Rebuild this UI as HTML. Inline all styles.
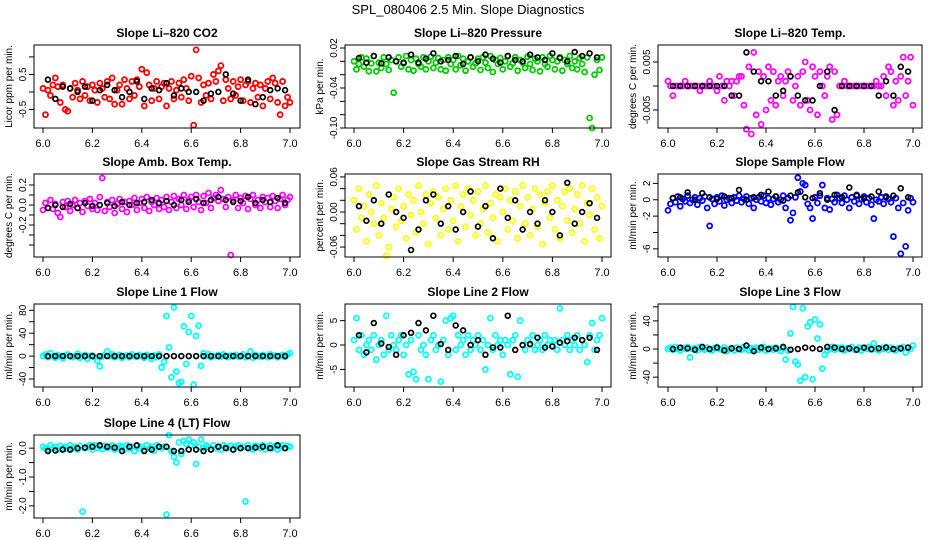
<!DOCTYPE html>
<html><head><meta charset="utf-8"><style>
html,body{margin:0;padding:0;background:#fff;}
svg{display:block;font-family:"Liberation Sans",sans-serif;}
</style></head><body>
<svg id="chart" width="936" height="540" viewBox="0 0 936 540" xmlns="http://www.w3.org/2000/svg">
<rect width="936" height="540" fill="#fff"/>
<text x="468" y="14" text-anchor="middle" font-size="13">SPL_080406  2.5 Min. Slope Diagnostics</text>
</svg>
<script>
const times = [6.00,6.01,6.02,6.03,6.04,6.05,6.06,6.07,6.08,6.09,6.10,6.11,6.12,6.13,6.14,6.15,6.16,6.17,6.18,6.19,6.20,6.21,6.22,6.23,6.24,6.25,6.26,6.27,6.28,6.29,6.30,6.31,6.32,6.33,6.34,6.35,6.36,6.37,6.38,6.39,6.40,6.41,6.42,6.43,6.44,6.45,6.46,6.47,6.48,6.49,6.50,6.51,6.52,6.53,6.54,6.55,6.56,6.57,6.58,6.59,6.60,6.61,6.62,6.63,6.64,6.65,6.66,6.67,6.68,6.69,6.70,6.71,6.72,6.73,6.74,6.75,6.76,6.77,6.78,6.79,6.80,6.81,6.82,6.83,6.84,6.85,6.86,6.87,6.88,6.89,6.90,6.91,6.92,6.93,6.94,6.95,6.96,6.97,6.98,6.99,7.00];
const blackTimes = [6.02,6.05,6.08,6.11,6.14,6.17,6.20,6.23,6.26,6.29,6.32,6.35,6.38,6.41,6.44,6.47,6.50,6.53,6.56,6.59,6.62,6.65,6.68,6.71,6.74,6.77,6.80,6.83,6.86,6.89,6.92,6.95,6.98];
const xTicks = [6.0,6.2,6.4,6.6,6.8,7.0];
const xTickLabels = ["6.0","6.2","6.4","6.6","6.8","7.0"];

const co2 = [0.1,-0.65,0.05,-0.1,0.2,0.4,0.15,-0.3,0.2,-0.5, -0.55,0.1,-0.15,0.25,0.05,-0.2,0.3,-0.1,0.15,-0.25, 0.2,0.05,-0.3,0.25,0.1,-0.15,0.3,-0.2,0.4,-0.35, 0.05,0.2,-0.35,0.35,0.1,-0.2,0.3,-0.1,0.35,0.15, 0.65,-0.4,0.55,0.2,-0.25,0.1,0.3,-0.2,0.15,0.25, -0.4,0.1,0.3,-0.2,0.05,0.25,-0.15,0.35,0.1,-0.25, 0.45,-0.95,1.2,0.4,-0.3,0.2,-0.1,0.25,-0.2,0.5, 0.3,0.6,0.75,-0.25,0.35,0.1,-0.2,0.3,-0.1,0.15, 0.35,-0.25,0.2,0.3,-0.3,0.1,0.25,-0.15,0.2,-0.4, 0.1,0.3,-0.2,0.4,0.25,-0.3,-0.65,0.3,-0.4,-0.15,-0.3];
const co2Black = [0.35,-0.2,0.15,0.1,0.0,0.15,-0.25,0.05,0.2,0.05,-0.15,0.0,0.3,-0.2,0.1,0.05,0.25,-0.1,0.1,0.0,0.0,-0.25,-0.05,0.0,0.5,-0.05,-0.25,0.35,-0.35,-0.15,0.05,0.1,0.05];

const pressure = [0.0,-0.012,-0.004,0.006,-0.008,0.004,-0.015,-0.003,0.008,-0.015, -0.002,-0.01,0.006,-0.004,-0.013,0.002,-0.047,0.0,0.006,-0.008, -0.003,0.008,-0.012,0.002,-0.014,0.004,-0.004,-0.008,0.006,-0.012, 0.0,0.007,-0.01,-0.002,0.005,-0.012,0.002,-0.014,0.006,-0.004, 0.002,-0.012,0.008,-0.006,0.004,-0.014,0.0,0.006,-0.008,-0.003, 0.004,-0.013,0.006,-0.002,-0.01,0.008,-0.016,0.002,-0.004,0.005, -0.012,0.0,0.008,-0.008,-0.003,0.006,-0.014,0.002,-0.002,-0.01, 0.007,-0.004,-0.013,0.004,0.0,-0.015,0.006,-0.004,-0.008,0.008, 0.002,-0.012,0.0,0.006,-0.014,0.002,-0.004,0.008,-0.01,0.0, -0.012,0.005,-0.004,-0.016,0.006,-0.085,-0.1,-0.02,0.002,-0.013,0.006];
const pressureBlack = [0.005,-0.002,0.008,-0.003,0.006,0.0,-0.002,0.01,-0.002,0.004,0.012,0.0,0.002,0.008,-0.004,0.006,0.0,0.01,0.004,-0.002,0.008,0.002,0.0,0.01,0.006,0.002,0.012,0.005,0.0,0.014,0.008,0.012,0.006];

const liTemp = [0.001,0,-0.002,0,0,0,0,0.001,0,0, 0,0,0,-0.001,0,0,0,0.001,0,0, -0.001,0.002,0,-0.003,0.001,0,0.001,-0.002,0.001,0.002, 0.002,-0.004,-0.009,0.004,-0.01,0.007,-0.006,0.003,-0.008,0.002, -0.005,0.004,-0.003,0.003,-0.004,0.001,0.002,-0.002,0.001,0.003, 0.002,-0.003,0,0.002,-0.004,0.003,0.005,-0.003,-0.005,0.004, 0.002,-0.006,0.003,0,-0.002,0.002,0.004,-0.007,0.003,-0.006, 0,0,0.001,0,0,0,0,0,0,0, 0,0,0,0,0,0.001,0,0,0.002,-0.002, 0.004,0.003,-0.004,0.001,-0.003,0.002,0.006,-0.002,0.001,0.006,-0.004];
const liTempBlack = [0,0,0,0,0,0,0,0,-0.002,-0.002,0.007,0.003,0.001,0.001,-0.002,-0.001,0.002,-0.002,-0.003,-0.003,0,0.003,-0.005,0,0,0,0,0,-0.002,0.001,-0.002,0.004,0.003];

const boxTemp = [-0.05,0.02,-0.03,0.05,-0.04,0.01,-0.08,-0.12,0.03,-0.02, 0.04,-0.06,0.0,0.05,-0.03,0.02,-0.07,0.04,-0.01,0.06, -0.04,0.02,-0.05,0.08,0.27,-0.06,0.03,-0.02,0.05,-0.08, 0.01,0.06,-0.04,0.03,-0.07,0.04,0.0,0.07,-0.05,0.02, 0.06,-0.03,0.08,-0.06,0.03,0.0,0.07,-0.04,0.05,-0.02, 0.08,-0.05,0.03,0.09,-0.03,0.06,0.0,0.1,-0.04,0.05, 0.08,-0.02,0.1,0.03,-0.05,0.09,0.02,0.12,-0.03,0.07, 0.1,0.04,0.15,0.06,-0.02,0.08,-0.5,0.05,0.1,-0.03, 0.07,0.02,0.09,-0.04,0.06,0.1,0.0,0.05,-0.03,0.08, 0.03,0.07,-0.02,0.09,0.04,-0.03,0.06,0.1,0.0,0.05,0.08];
const boxTempBlack = [-0.03,0.0,-0.02,0.01,-0.03,0.02,-0.01,0.0,0.02,-0.01,0.03,0.0,0.02,0.03,0.05,0.02,0.04,0.0,0.05,0.03,0.06,0.02,0.05,0.08,0.05,0.03,0.04,0.08,0.02,0.05,0.03,0.07,0.02];

const gasRH = [0.02,-0.03,0.04,-0.01,0.01,-0.05,0.03,0.0,-0.02,0.045, -0.04,0.015,-0.01,-0.075,-0.06,0.005,0.025,-0.025,0.04,-0.015, 0.01,-0.045,0.03,-0.005,0.02,-0.035,0.045,0.0,-0.02,0.03, -0.055,0.015,0.035,-0.01,0.025,-0.04,0.005,0.04,-0.03,0.02, -0.015,0.045,-0.05,0.01,0.03,-0.025,0.04,-0.005,0.02,-0.04, 0.035,-0.02,0.005,0.045,-0.035,0.015,-0.01,0.03,-0.05,0.025, 0.0,0.04,-0.03,0.02,-0.015,0.035,-0.045,0.01,0.045,-0.02, 0.025,-0.04,0.005,0.04,-0.025,0.03,-0.055,0.015,0.035,-0.01, 0.045,-0.03,0.02,-0.045,0.01,0.035,-0.015,0.04,-0.035,0.005, 0.03,-0.02,0.045,-0.05,0.015,-0.005,0.04,-0.03,0.025,-0.045,0.01];
const gasRHBlack = [0.01,-0.015,0.02,-0.02,0.03,0.0,-0.01,-0.065,-0.03,0.02,0.03,-0.02,0.01,-0.03,0.0,0.035,-0.025,0.01,-0.045,0.04,-0.01,0.02,-0.03,0.0,-0.02,0.02,0.0,-0.04,0.05,-0.02,0.0,0.015,-0.01];

const sampleFlow = [-1.3,-0.5,0.2,-0.3,0.4,-0.8,0.1,-0.2,0.5,-0.4, 0.0,0.3,-0.6,0.2,-0.1,0.4,-1.0,-3.2,0.1,-0.5, 0.3,-0.2,0.5,-0.7,0.0,0.2,-0.4,0.3,-0.1,0.5, -0.3,0.1,0.4,-0.5,0.2,-1.0,0.0,0.3,-0.2,0.5, -0.4,0.2,-0.6,0.1,0.4,-0.3,0.0,0.5,-1.0,0.2, -2.5,-1.6,0.3,2.7,1.0,2.0,1.8,-0.5,-1.0,-2.3, 0.3,-0.4,0.5,1.8,-1.0,0.2,-1.2,0.1,-0.3,0.6, 0.2,-0.4,0.5,0.0,-1.0,0.3,-0.2,0.6,-0.5,0.1, 0.4,-0.3,0.2,-0.6,-2.3,0.0,-0.2,0.3,-0.5,0.4, 0.1,-0.3,-4.5,0.2,-1.0,-6.6,-0.4,-5.7,-1.3,0.2,-0.3];
const sampleFlowBlack = [0.2,0.3,0.9,0.0,0.8,0.3,0.1,0.4,0.2,1.2,0.0,0.3,0.6,1.0,0.4,-0.1,0.5,0.9,0.3,0.2,0.8,0.0,0.6,0.3,1.5,0.5,0.2,0.4,1.0,0.3,0.5,1.4,0.3];

const line1 = [0,3,-2,5,0,-3,2,0,-4,1, 3,0,-2,0,4,-3,0,2,-5,0, 1,-2,-8,-18,-1,2,8,0,3,-2, 0,2,-3,0,1,-2,3,0,-1,2, 0,-3,2,0,-5,1,-2,3,-20,-10, 70,15,-37,85,-27,-47,-45,52,-14,42, 70,-50,35,53,-17,5,0,3,-2,0, 0,2,-1,3,0,-2,1,0,2,-1, 0,3,-2,0,8,-3,2,0,-1,2, 0,-2,3,0,1,-2,0,2,-1,3,5];
const line1Black = [0,0,0,0,0,0,0,0,0,0,0,0,0,0,0,0,0,0,0,0,0,0,0,0,0,0,0,0,0,0,0,0,0];

const line2 = [1,5.5,-1,2,-2,0,1,-1,2,-3, 0,1,-2,6,-1,2,0,-1,1,2, -2,0,-6,1,-5.5,-7,2,-1,0,-2, -7,1,2,-1,0,-7.5,1,5,-2,5.5, 6,-1,2,0,1,-2,2,-1,1,0, 2,-1,1,-5,0,5.5,-1,2,0,1, -2,1,0,-6,1,2,-6.5,5,0,-1, 1,0,2,-1,0,1,-1,2,0,1, 0,1,-1,7.5,1,0,2,-1,1,0, 2,-1,1,0,-3.5,2,4.5,-1,1,2,5.5];
const line2Black = [2,-1.5,4.5,0.3,-0.4,-2,2,2.5,4.5,3,6,0.2,-1,4,3,0,1,-2,-0.5,-0.5,6,-1,0,0.2,1.5,-0.5,-0.3,0.5,0.8,1.5,1,1.5,-1];

const line3 = [0,2,-1,3,0,-2,1,0,3,-12, 0,1,-2,3,0,-1,2,0,-2,1, 3,0,-1,2,-3,0,1,-2,2,0, -1,3,0,-2,1,0,2,-1,0,3, -2,0,1,-1,2,0,-3,1,-15,-2, 22,60,-18,-22,-45,58,-40,32,38,-43, 42,15,35,-28,-8,-2,0,3,-1,2, 0,2,-2,1,0,3,-1,0,2,-2, 1,0,3,-1,8,0,-2,1,0,3, -1,2,0,-2,1,0,3,-5,2,0,5];
const line3Black = [0,2,1,-1,3,0,2,-2,1,0,5,-3,2,0,1,3,-1,0,2,1,0,3,2,0,1,-1,2,0,1,2,0,1,2];

const line4 = [0.05,0,-0.05,0.1,0,0.05,-0.05,0.08,0,0.05, -0.03,0.1,0,0.05,-0.05,0.08,-2.2,0,0.05,0.1, -0.05,0.1,0,0.05,-0.03,0.08,0,0.05,0.1,-0.05, 0,0.08,0.05,-0.05,0.1,0,0.05,-0.1,0.08,0, 0.05,-0.05,0.1,0,0.05,-0.08,0.1,0.05,0,0.05, -2.3,0.45,-0.1,-0.3,-0.5,0.2,-0.2,0.25,0.15,0.3, 0.1,0.2,-0.55,0.05,0.3,0,0.1,0.05,-0.05,0.1, 0,0.05,-0.05,0.1,0.05,0,0.08,-0.05,0.05,0.1, 0,0.05,-1.85,0.1,0,-0.05,0.08,0.05,0,0.1, -0.05,0.05,0.1,0,0.08,-0.05,0.05,0.1,0,0.08,0.05];
const line4Black = [-0.1,-0.08,-0.05,-0.05,0,0.02,0.05,0.1,0.05,0.02,-0.1,0.05,0.1,-0.1,-0.05,0.05,0.05,-0.1,-0.1,-0.05,-0.05,-0.1,-0.05,0.05,0,-0.05,0,0,0.02,0.05,0,0.1,0];

const NS = "http://www.w3.org/2000/svg";
const svg = document.getElementById('chart');
function mk(tag, attrs, parent) {
  const e = document.createElementNS(NS, tag);
  for (const k in attrs) e.setAttribute(k, attrs[k]);
  (parent || svg).appendChild(e);
  return e;
}
const colX = [[34,300,43,290],[345,611,354,602],[658,922,668,913]];
const rowY = [45,174,304,435];
const H = 83;

const panels = [
 {id:'co2',title:'Slope Li–820 CO2',ylab:'Licor ppm per min.',col:0,row:0,ymin:-1.03,ymax:1.34,ticks:[-0.5,0,0.5,1.0],labels:['-0.5','','0.5',''],vals:co2,blk:co2Black,color:'#ff0000'},
 {id:'pressure',title:'Slope Li–820 Pressure',ylab:'kPa per min.',col:1,row:0,ymin:-0.1,ymax:0.0245,ticks:[0.02,0,-0.02,-0.04,-0.06,-0.08,-0.10],labels:['0.02','','','-0.04','','','-0.10'],vals:pressure,blk:pressureBlack,color:'#00cc00'},
 {id:'li-temp',title:'Slope Li–820 Temp.',ylab:'degrees C per min.',col:2,row:0,ymin:-0.00875,ymax:0.00854,ticks:[-0.005,0,0.005],labels:['-0.005','','0.005'],vals:liTemp,blk:liTempBlack,color:'#ff00ff'},
 {id:'box-temp',title:'Slope Amb. Box Temp.',ylab:'degrees C per min.',col:0,row:1,ymin:-0.52,ymax:0.31,ticks:[-0.4,-0.3,-0.2,-0.1,0,0.1,0.2],labels:['','','-0.2','','0.0','','0.2'],vals:boxTemp,blk:boxTempBlack,color:'#ff00ff'},
 {id:'gas-rh',title:'Slope Gas Stream RH',ylab:'percent per min.',col:1,row:1,ymin:-0.077,ymax:0.065,ticks:[-0.06,-0.04,-0.02,0,0.02,0.04,0.06],labels:['-0.06','','','0.00','','','0.06'],vals:gasRH,blk:gasRHBlack,color:'#ffff00'},
 {id:'sample-flow',title:'Slope Sample Flow',ylab:'ml/min per min.',col:2,row:1,ymin:-7.0,ymax:3.15,ticks:[-6,-4,-2,0,2],labels:['-6','','-2','0','2'],vals:sampleFlow,blk:sampleFlowBlack,color:'#0000ff'},
 {id:'line1',title:'Slope Line 1 Flow',ylab:'ml/min per min.',col:0,row:2,ymin:-54,ymax:91,ticks:[-40,-20,0,20,40,60,80],labels:['-40','','0','','40','','80'],vals:line1,blk:line1Black,color:'#00ffff'},
 {id:'line2',title:'Slope Line 2 Flow',ylab:'ml/min per min.',col:1,row:2,ymin:-8.6,ymax:8.4,ticks:[-5,0,5],labels:['-5','0','5'],vals:line2,blk:line2Black,color:'#00ffff'},
 {id:'line3',title:'Slope Line 3 Flow',ylab:'ml/min per min.',col:2,row:2,ymin:-54,ymax:64,ticks:[-40,-20,0,20,40,60],labels:['-40','','0','','40',''],vals:line3,blk:line3Black,color:'#00ffff'},
 {id:'line4',title:'Slope Line 4 (LT) Flow',ylab:'ml/min per min.',col:0,row:3,ymin:-2.42,ymax:0.456,ticks:[-2,-1.5,-1,-0.5,0],labels:['-2.0','','-1.0','','0.0'],vals:line4,blk:line4Black,color:'#00ffff'}
];

panels.forEach(p => {
  const [L,R,x0,x1] = colX[p.col];
  const T = rowY[p.row], B = T + H;
  const xs = v => x0 + (v - 6.0) / 1.0 * (x1 - x0);
  const ys = v => T + (p.ymax - v) / (p.ymax - p.ymin) * H;
  const g = mk('g', {});
  
  
  const t = mk('text', {x:(L+R)/2, y:T-8, 'text-anchor':'middle', 'font-size':12, 'font-weight':'bold'}, g);
  t.textContent = p.title;
  
  
  const yl = mk('text', {x:0, y:0, transform:`translate(${L-22},${(T+B)/2}) rotate(-90)`, 'text-anchor':'middle', 'font-size':10}, g);
  yl.textContent = p.ylab;
  
  
  const pg = mk('g', {fill:'none', 'stroke-width':1.8}, g);
  
  
  p.vals.forEach((v, i) => {
    const c = mk('circle', {cx:xs(times[i]), cy:ys(v), r:2.5, stroke:p.color}, pg);
    
    
  });
  const bg = mk('g', {fill:'none', 'stroke-width':1.7}, g);
  
  
  p.blk.forEach((v, i) => {
    const c = mk('circle', {cx:xs(blackTimes[i]), cy:ys(v), r:2.4, stroke:'#000'}, bg);
    
    
  });
  const bx = mk('rect', {x:L, y:T, width:R-L, height:H, fill:'none', stroke:'#000', 'stroke-width':1}, g);
  
  
  const xg = mk('g', {}, g);
  
  
  mk('line', {x1:xs(6.0), x2:xs(7.0), y1:B, y2:B, stroke:'#000'}, xg);
  xTicks.forEach((v, i) => {
    mk('line', {x1:xs(v), x2:xs(v), y1:B, y2:B+5, stroke:'#000'}, xg);
    const tl = mk('text', {x:xs(v), y:B+19, 'text-anchor':'middle', 'font-size':11}, xg);
    tl.textContent = xTickLabels[i];
    
    
  });
  const yg = mk('g', {}, g);
  
  
  p.ticks.forEach((v, i) => {
    const yy = ys(v);
    mk('line', {x1:L-5, x2:L, y1:yy, y2:yy, stroke:'#000'}, yg);
    if (p.labels[i]) {
      const tl = mk('text', {x:0, y:0, transform:`translate(${L-8},${yy}) rotate(-90)`, 'text-anchor':'middle', 'font-size':10}, yg);
      tl.textContent = p.labels[i];
      
      
    }
  });
});
</script>
</body></html>
